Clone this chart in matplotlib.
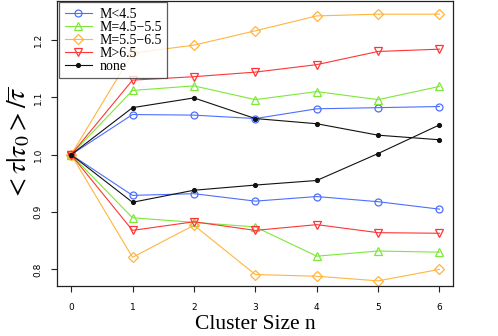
import matplotlib
matplotlib.use("Agg")
import matplotlib.pyplot as plt

plt.rcParams["mathtext.fontset"] = "stix"

cluster_size = [0, 1, 2, 3, 4, 5, 6]
x_ticks = [0, 1, 2, 3, 4, 5, 6]
y_ticks = [0.8, 0.9, 1.0, 1.1, 1.2]
y_tick_labels = ["0.8", "0.9", "1.0", "1.1", "1.2"]

labels = ["M<4.5", "M=4.5\u22125.5", "M=5.5\u22126.5", "M>6.5", "none"]

m1_upper = [1.0, 1.070, 1.069, 1.063, 1.080, 1.082, 1.084]
m1_lower = [1.0, 0.929, 0.932, 0.919, 0.927, 0.918, 0.905]
m2_upper = [1.0, 1.112, 1.120, 1.096, 1.110, 1.096, 1.119]
m2_lower = [1.0, 0.890, 0.882, 0.874, 0.823, 0.832, 0.830]
m3_upper = [1.0, 1.177, 1.191, 1.216, 1.242, 1.245, 1.245]
m3_lower = [1.0, 0.821, 0.877, 0.791, 0.788, 0.780, 0.800]
m4_upper = [1.0, 1.130, 1.136, 1.144, 1.157, 1.180, 1.184]
m4_lower = [1.0, 0.868, 0.883, 0.868, 0.878, 0.864, 0.863]
none_upper = [1.0, 1.082, 1.099, 1.063, 1.054, 1.034, 1.026]
none_lower = [1.0, 0.917, 0.938, 0.947, 0.955, 1.002, 1.052]

series = [
    (m1_upper, m1_lower, "#4d6fff", "o", 5.0, "none"),
    (m2_upper, m2_lower, "#7de83a", "^", 5.5, "none"),
    (m3_upper, m3_lower, "#ffb53f", "D", 5.2, "none"),
    (m4_upper, m4_lower, "#ff3535", "v", 5.5, "none"),
    (none_upper, none_lower, "#111111", "o", 2.8, "#111111"),
]

fig = plt.figure(figsize=(4.98, 3.36), dpi=100)
ax = fig.add_axes([57/498, 1 - 286/336, (453-57)/498, (286-1)/336])

handles = []
for (up, lo, col, mk, ms, mfc), lab in zip(series, labels):
    lw = 0.8
    h, = ax.plot(cluster_size, up, color=col, marker=mk, ms=ms, mfc=mfc,
                 mec=col, mew=0.9, lw=lw, label=lab)
    ax.plot(cluster_size, lo, color=col, marker=mk, ms=ms, mfc=mfc,
            mec=col, mew=0.9, lw=lw)
    handles.append(h)

ax.set_xlim(-0.23, 6.22)
ax.set_ylim(0.771, 1.268)
ax.set_xticks(x_ticks)
ax.set_xticklabels([str(v) for v in x_ticks], fontsize=6.5, family="DejaVu Sans")
ax.set_yticks(y_ticks)
ax.set_yticklabels(y_tick_labels, fontsize=6.5, family="DejaVu Sans",
                   rotation=90, va="center")
ax.tick_params(axis="both", direction="out", length=4.2, width=0.8, color="#222222")
ax.tick_params(axis="x", pad=8)
ax.tick_params(axis="y", pad=6)
for s in ax.spines.values():
    s.set_linewidth(0.9)
    s.set_color("#222222")

ax.set_xlabel("Cluster Size n", fontsize=15.5, family="Liberation Serif", labelpad=2)
ax.set_ylabel(r"$<\tau|\tau_0>/\overline{\tau}$", fontsize=20, labelpad=1)

leg = ax.legend(handles=handles, loc="upper left",
                bbox_to_anchor=(59/498, 1 - 2/336), bbox_transform=fig.transFigure,
                prop={"family": "Liberation Serif", "size": 10},
                frameon=True, fancybox=False, edgecolor="#333333",
                handlelength=2.0, handletextpad=0.5, labelspacing=0.0,
                borderpad=0.4, borderaxespad=0)
leg.get_frame().set_linewidth(0.9)

fig.savefig("out.png", dpi=100)
